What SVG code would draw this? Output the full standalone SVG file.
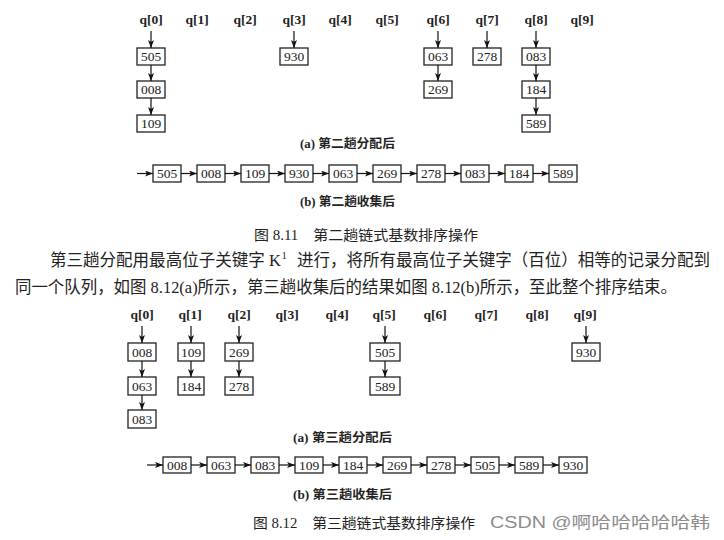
<svg xmlns="http://www.w3.org/2000/svg" width="724" height="540" viewBox="0 0 724 540">
<defs>
<marker id="ah" markerWidth="8" markerHeight="6" refX="8" refY="3" orient="auto" markerUnits="userSpaceOnUse">
<path d="M0,0 L8,3 L0,6 L2,3 Z" fill="#111"/>
</marker>
<style>
.bx{fill:#fff;stroke:#222;stroke-width:1.3}
.nt{font-family:"Liberation Serif",serif;font-size:13.5px;fill:#222;text-anchor:middle}
.ql{font-family:"Liberation Serif",serif;font-size:13.5px;fill:#222;text-anchor:middle;font-weight:bold}
.cn{stroke:#111;stroke-width:1.2;fill:none;marker-end:url(#ah)}
.sc{font-family:"Liberation Serif","Noto Sans CJK SC",sans-serif;font-size:12px;font-weight:bold;fill:#222}
.fc{font-family:"Liberation Serif","Noto Sans CJK SC",serif;font-size:14px;fill:#222}
.pt{font-family:"Liberation Serif","Noto Sans CJK SC",serif;font-size:16.5px;fill:#222}
.sup{font-size:10px}
.wm{font-family:"Liberation Sans","Noto Sans CJK SC",sans-serif;font-size:16px;fill:#8c8c8c}
</style>
</defs>
<rect width="724" height="540" fill="#fff"/>

<!-- Figure 8.11 labels -->
<g id="fig1-queues">
<text class="ql" x="151" y="24">q[0]</text>
<text class="ql" x="197" y="24">q[1]</text>
<text class="ql" x="245" y="24">q[2]</text>
<text class="ql" x="294" y="24">q[3]</text>
<text class="ql" x="340" y="24">q[4]</text>
<text class="ql" x="387" y="24">q[5]</text>
<text class="ql" x="438" y="24">q[6]</text>
<text class="ql" x="487" y="24">q[7]</text>
<text class="ql" x="536" y="24">q[8]</text>
<text class="ql" x="582" y="24">q[9]</text>
</g>

<g id="f1a-505"><rect class="bx" x="137" y="48" width="28" height="17"/><text class="nt" x="151" y="61">505</text></g>
<g id="f1a-008"><rect class="bx" x="137" y="81" width="28" height="17"/><text class="nt" x="151" y="94">008</text></g>
<g id="f1a-109"><rect class="bx" x="137" y="115" width="28" height="17"/><text class="nt" x="151" y="128">109</text></g>
<g id="f1a-930"><rect class="bx" x="280" y="48" width="28" height="17"/><text class="nt" x="294" y="61">930</text></g>
<g id="f1a-063"><rect class="bx" x="424" y="48" width="28" height="17"/><text class="nt" x="438" y="61">063</text></g>
<g id="f1a-269"><rect class="bx" x="424" y="81" width="28" height="17"/><text class="nt" x="438" y="94">269</text></g>
<g id="f1a-278"><rect class="bx" x="473" y="48" width="28" height="17"/><text class="nt" x="487" y="61">278</text></g>
<g id="f1a-083"><rect class="bx" x="522" y="48" width="28" height="17"/><text class="nt" x="536" y="61">083</text></g>
<g id="f1a-184"><rect class="bx" x="522" y="81" width="28" height="17"/><text class="nt" x="536" y="94">184</text></g>
<g id="f1a-589"><rect class="bx" x="522" y="115" width="28" height="17"/><text class="nt" x="536" y="128">589</text></g>

<text class="sc" x="300" y="148" textLength="95" lengthAdjust="spacingAndGlyphs">(a) 第二趟分配后</text>

<!-- Figure 8.11 (b) -->
<g id="f1b-505"><rect class="bx" x="153" y="165" width="28" height="17"/><text class="nt" x="167" y="178">505</text></g>
<g id="f1b-008"><rect class="bx" x="197" y="165" width="28" height="17"/><text class="nt" x="211" y="178">008</text></g>
<g id="f1b-109"><rect class="bx" x="241" y="165" width="28" height="17"/><text class="nt" x="255" y="178">109</text></g>
<g id="f1b-930"><rect class="bx" x="285" y="165" width="28" height="17"/><text class="nt" x="299" y="178">930</text></g>
<g id="f1b-063"><rect class="bx" x="329" y="165" width="28" height="17"/><text class="nt" x="343" y="178">063</text></g>
<g id="f1b-269"><rect class="bx" x="373" y="165" width="28" height="17"/><text class="nt" x="387" y="178">269</text></g>
<g id="f1b-278"><rect class="bx" x="417" y="165" width="28" height="17"/><text class="nt" x="431" y="178">278</text></g>
<g id="f1b-083"><rect class="bx" x="461" y="165" width="28" height="17"/><text class="nt" x="475" y="178">083</text></g>
<g id="f1b-184"><rect class="bx" x="505" y="165" width="28" height="17"/><text class="nt" x="519" y="178">184</text></g>
<g id="f1b-589"><rect class="bx" x="549" y="165" width="28" height="17"/><text class="nt" x="563" y="178">589</text></g>

<text class="sc" x="300" y="206" textLength="95" lengthAdjust="spacingAndGlyphs">(b) 第二趟收集后</text>

<text class="fc" x="254" y="240" textLength="224" lengthAdjust="spacingAndGlyphs">图 8.11　第二趟链式基数排序操作</text>

<!-- Paragraph -->
<text class="pt" x="50" y="266" textLength="660" lengthAdjust="spacingAndGlyphs">第三趟分配用最高位子关键字 K<tspan class="sup" dx="1" dy="-7">1</tspan><tspan dx="6" dy="7"> 进行，将所有最高位子关键字（百位）相等的记录分配到</tspan></text>
<text class="pt" x="15" y="293" textLength="662" lengthAdjust="spacingAndGlyphs">同一个队列，如图 8.12(a)所示，第三趟收集后的结果如图 8.12(b)所示，至此整个排序结束。</text>

<!-- Figure 8.12 labels -->
<g id="fig2-queues">
<text class="ql" x="142" y="319">q[0]</text>
<text class="ql" x="190" y="319">q[1]</text>
<text class="ql" x="239" y="319">q[2]</text>
<text class="ql" x="287" y="319">q[3]</text>
<text class="ql" x="337" y="319">q[4]</text>
<text class="ql" x="384" y="319">q[5]</text>
<text class="ql" x="435" y="319">q[6]</text>
<text class="ql" x="486" y="319">q[7]</text>
<text class="ql" x="537" y="319">q[8]</text>
<text class="ql" x="585" y="319">q[9]</text>
</g>

<g id="f2a-008"><rect class="bx" x="128" y="343" width="28" height="18"/><text class="nt" x="142" y="356.5">008</text></g>
<g id="f2a-063"><rect class="bx" x="128" y="377" width="28" height="18"/><text class="nt" x="142" y="390.5">063</text></g>
<g id="f2a-083"><rect class="bx" x="128" y="410" width="28" height="18"/><text class="nt" x="142" y="423.5">083</text></g>
<g id="f2a-109"><rect class="bx" x="178" y="343" width="26" height="18"/><text class="nt" x="191" y="356.5">109</text></g>
<g id="f2a-184"><rect class="bx" x="178" y="377" width="26" height="18"/><text class="nt" x="191" y="390.5">184</text></g>
<g id="f2a-269"><rect class="bx" x="225" y="343" width="28" height="18"/><text class="nt" x="239" y="356.5">269</text></g>
<g id="f2a-278"><rect class="bx" x="225" y="377" width="28" height="18"/><text class="nt" x="239" y="390.5">278</text></g>
<g id="f2a-505"><rect class="bx" x="370" y="343" width="30" height="18"/><text class="nt" x="385" y="356.5">505</text></g>
<g id="f2a-589"><rect class="bx" x="370" y="377" width="30" height="18"/><text class="nt" x="385" y="390.5">589</text></g>
<g id="f2a-930"><rect class="bx" x="572" y="343" width="28" height="18"/><text class="nt" x="586" y="356.5">930</text></g>

<text class="sc" x="293" y="442" textLength="99" lengthAdjust="spacingAndGlyphs">(a) 第三趟分配后</text>

<!-- Figure 8.12 (b) -->
<g id="f2b-008"><rect class="bx" x="163" y="457" width="28" height="16"/><text class="nt" x="177" y="469.5">008</text></g>
<g id="f2b-063"><rect class="bx" x="207" y="457" width="28" height="16"/><text class="nt" x="221" y="469.5">063</text></g>
<g id="f2b-083"><rect class="bx" x="251" y="457" width="28" height="16"/><text class="nt" x="265" y="469.5">083</text></g>
<g id="f2b-109"><rect class="bx" x="295" y="457" width="28" height="16"/><text class="nt" x="309" y="469.5">109</text></g>
<g id="f2b-184"><rect class="bx" x="339" y="457" width="28" height="16"/><text class="nt" x="353" y="469.5">184</text></g>
<g id="f2b-269"><rect class="bx" x="383" y="457" width="28" height="16"/><text class="nt" x="397" y="469.5">269</text></g>
<g id="f2b-278"><rect class="bx" x="427" y="457" width="28" height="16"/><text class="nt" x="441" y="469.5">278</text></g>
<g id="f2b-505"><rect class="bx" x="471" y="457" width="28" height="16"/><text class="nt" x="485" y="469.5">505</text></g>
<g id="f2b-589"><rect class="bx" x="515" y="457" width="28" height="16"/><text class="nt" x="529" y="469.5">589</text></g>
<g id="f2b-930"><rect class="bx" x="559" y="457" width="28" height="16"/><text class="nt" x="573" y="469.5">930</text></g>

<text class="sc" x="293" y="499" textLength="99" lengthAdjust="spacingAndGlyphs">(b) 第三趟收集后</text>

<text class="fc" x="253" y="528" textLength="222" lengthAdjust="spacingAndGlyphs">图 8.12　第三趟链式基数排序操作</text>
<text class="wm" x="490" y="528" textLength="220" lengthAdjust="spacingAndGlyphs">CSDN @啊哈哈哈哈哈韩</text>

<!-- Connectors -->
<g id="connectors">
<path class="cn" d="M151,31 V48"/>
<path class="cn" d="M151,65 V81"/>
<path class="cn" d="M151,98 V115"/>
<path class="cn" d="M294,31 V48"/>
<path class="cn" d="M438,31 V48"/>
<path class="cn" d="M438,65 V81"/>
<path class="cn" d="M487,31 V48"/>
<path class="cn" d="M536,31 V48"/>
<path class="cn" d="M536,65 V81"/>
<path class="cn" d="M536,98 V115"/>

<path class="cn" d="M137,173.5 H153"/>
<path class="cn" d="M181,173.5 H197"/>
<path class="cn" d="M225,173.5 H241"/>
<path class="cn" d="M269,173.5 H285"/>
<path class="cn" d="M313,173.5 H329"/>
<path class="cn" d="M357,173.5 H373"/>
<path class="cn" d="M401,173.5 H417"/>
<path class="cn" d="M445,173.5 H461"/>
<path class="cn" d="M489,173.5 H505"/>
<path class="cn" d="M533,173.5 H549"/>

<path class="cn" d="M142,326 V343"/>
<path class="cn" d="M142,361 V377"/>
<path class="cn" d="M142,395 V410"/>
<path class="cn" d="M191,326 V343"/>
<path class="cn" d="M191,361 V377"/>
<path class="cn" d="M239,326 V343"/>
<path class="cn" d="M239,361 V377"/>
<path class="cn" d="M385,326 V343"/>
<path class="cn" d="M385,361 V377"/>
<path class="cn" d="M586,326 V343"/>

<path class="cn" d="M147,465 H163"/>
<path class="cn" d="M191,465 H207"/>
<path class="cn" d="M235,465 H251"/>
<path class="cn" d="M279,465 H295"/>
<path class="cn" d="M323,465 H339"/>
<path class="cn" d="M367,465 H383"/>
<path class="cn" d="M411,465 H427"/>
<path class="cn" d="M455,465 H471"/>
<path class="cn" d="M499,465 H515"/>
<path class="cn" d="M543,465 H559"/>
</g>
</svg>
